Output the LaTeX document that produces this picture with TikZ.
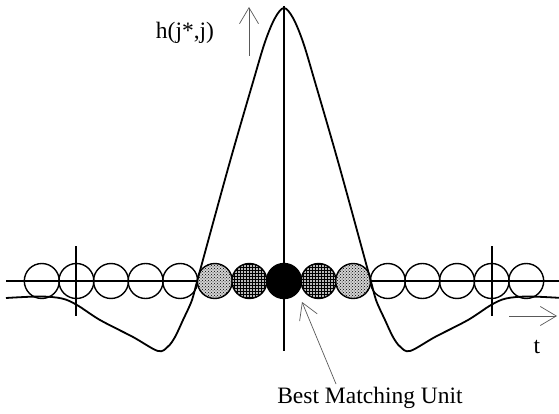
\documentclass[tikz,border=0pt]{standalone}
\usepackage{fontspec}
\setmainfont{Liberation Serif}
\usetikzlibrary{arrows.meta,patterns}
\begin{document}
\begin{tikzpicture}[x=1pt,y=-1pt,
  unit/.style={circle,draw,line width=1.4pt,minimum size=35pt,inner sep=0pt},
  lightunit/.style={unit,preaction={fill=gray!35},pattern=crosshatch dots},
  darkunit/.style={unit,preaction={fill=gray!55},pattern=grid},
  bmuunit/.style={unit,fill=black},
  thinarrow/.style={draw=black!65,line width=0.7pt,-{Straight Barb[length=16pt,width=19pt,line width=0.7pt]}},
  lbl/.style={font=\fontsize{23.5}{26}\selectfont,inner sep=0pt,anchor=base}]
\useasboundingbox (0,0) rectangle (559,414);
% axes
\draw[line width=1.4pt] (6,281) -- (559,281);
\draw[line width=1.8pt] (284,6) -- (284,351);
\draw[line width=1.4pt] (76,246) -- (76,316);
\draw[line width=1.4pt] (492,246) -- (492,316);
% units
\foreach \k/\s in {-7/unit,-6/unit,-5/unit,-4/unit,-3/unit,-2/lightunit,-1/darkunit,0/bmuunit,1/darkunit,2/lightunit,3/unit,4/unit,5/unit,6/unit,7/unit}{
  \node[\s] (u\k) at ({284+34.6*\k},281) {};
}
% neighbourhood function
\draw[line width=1.8pt] plot[smooth,tension=0.55] coordinates {
 (6,298) (40,296.5) (62,298.5) (77,305) (100,320) (133,337) (158,351) (168,346.5) (175,337)
 (183,320) (192,300) (198,278) (229,165) (253,82) (265,42) (275,18) (284,8)
 (293,18) (303,42) (315,82) (339,165) (370,278) (376,300) (385,320) (393,337) (400,346.5)
 (410,351) (435,337) (468,320) (491,305) (506,298.5) (528,296.5) (562,298)};
% labels
\node[lbl] (h) at (185,39) {h(j*,j)};
\node[lbl] (t) at (537,353) {t};
\node[lbl] (bmu) at (370,403) {Best Matching Unit};
% arrows
\coordinate (hup0) at (249,56);
\coordinate (hup1) at (249,7);
\draw[thinarrow] (hup0) -- (hup1);
\coordinate (tr0) at (509,316);
\coordinate (tr1) at (557,316);
\draw[thinarrow] (tr0) -- (tr1);
\coordinate (bm0) at (336,384);
\coordinate (bm1) at (302,302);
\draw[thinarrow] (bm0) -- (bm1);
\end{tikzpicture}
\end{document}
